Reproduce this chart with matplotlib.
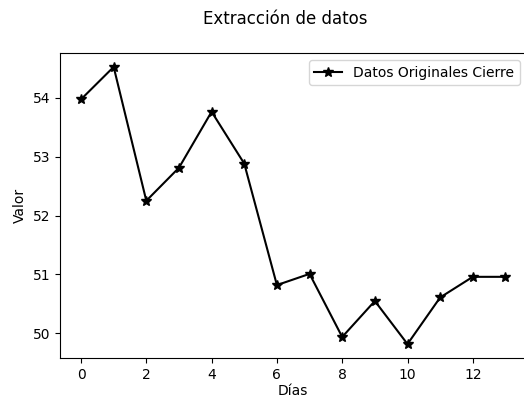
import matplotlib
matplotlib.use("Agg")
import matplotlib.pyplot as plt
import numpy as np

# closing values
dias = np.arange(14)
cierre = [53.97, 54.52, 52.25, 52.81, 53.76, 52.88, 50.82, 51.01,
          49.94, 50.55, 49.82, 50.61, 50.96, 50.96]

fig = plt.figure(figsize=(5.24, 3.99), dpi=100)
# the reference is cropped: the right side of the axes runs past the edge
ax = fig.add_axes([0.1141, 0.103, 0.891, 0.764])

ax.plot(dias, cierre, color='k', marker='*', markersize=7.5,
        label="Datos Originales Cierre")
ax.set_xlabel("Días", labelpad=2)
ax.set_ylabel("Valor")
ax.set_xticks([0, 2, 4, 6, 8, 10, 12])
ax.legend(loc='upper right')
fig.suptitle("Extracción de datos", x=0.545, y=0.975)

fig.savefig("out.png", dpi=100)
